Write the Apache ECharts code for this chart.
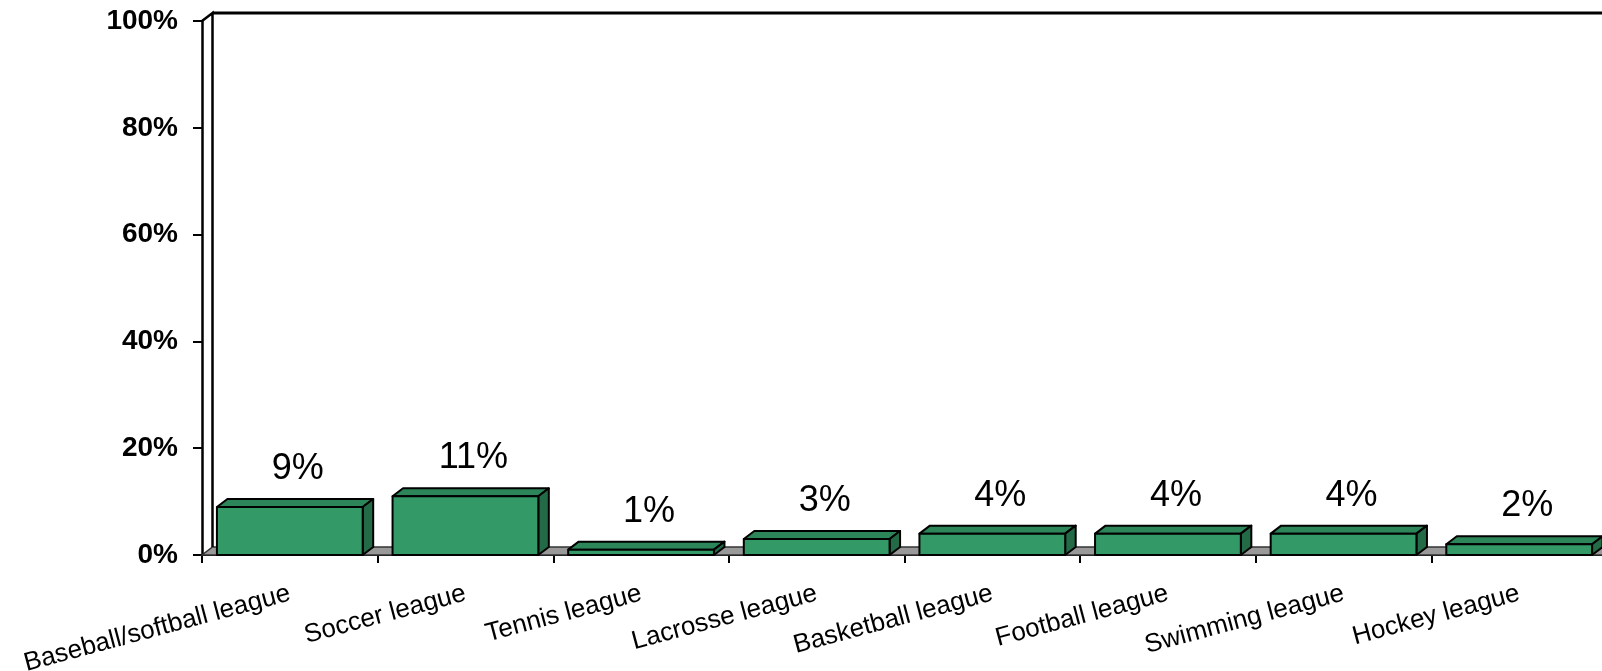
<!DOCTYPE html>
<html>
<head>
<meta charset="utf-8">
<script src="https://cdn.jsdelivr.net/npm/echarts@6/dist/echarts.min.js"></script>
<style>
  html, body { margin: 0; padding: 0; background: #fff; }
  #chart { width: 1602px; height: 671px; }
</style>
</head>
<body>
<div id="chart"></div>
<script>
const categories = ['Baseball/softball league', 'Soccer league', 'Tennis league', 'Lacrosse league',
  'Basketball league', 'Football league', 'Swimming league', 'Hockey league'];
const values = [9, 11, 1, 3, 4, 4, 4, 2];
const yTicks = [0, 20, 40, 60, 80, 100];

const FRONT = '#339966', TOP = '#2d8659', SIDE = '#236b47';
const DX = 10.5, DY = 8;

function renderBar(params, api) {
  const idx = api.value(0), v = api.value(1);
  const base = api.coord([idx, 0]);
  const top = api.coord([idx, v]);
  const catW = api.size([1, 0])[0];
  const x0 = base[0] - catW / 2 + catW * 0.085;
  const w = catW * 0.83;
  const x1 = x0 + w;
  const yb = base[1], yt = top[1];
  const line = { stroke: '#000', lineWidth: 2, lineJoin: 'round' };
  return {
    type: 'group',
    children: [
      { type: 'polygon', shape: { points: [[x0, yt], [x1, yt], [x1 + DX, yt - DY], [x0 + DX, yt - DY]] },
        style: Object.assign({ fill: TOP }, line) },
      { type: 'polygon', shape: { points: [[x1, yt], [x1 + DX, yt - DY], [x1 + DX, yb - DY], [x1, yb]] },
        style: Object.assign({ fill: SIDE }, line) },
      { type: 'rect', shape: { x: x0, y: yt, width: w, height: yb - yt },
        style: Object.assign({ fill: FRONT }, line) },
      { type: 'text', x: (x0 + x1) / 2 + 8, y: yt - 38,
        style: { text: v + '%', fontSize: 36, fontFamily: 'Liberation Sans', fill: '#000',
                 align: 'center', verticalAlign: 'middle' } }
    ]
  };
}

const chart = echarts.init(document.getElementById('chart'), null, { renderer: 'canvas' });
const GL = 202, GT = 21, GW = 1405, GH = 534;

const option = {
  animation: false,
  backgroundColor: '#fff',
  grid: { left: GL, top: GT, width: GW, height: GH, containLabel: false, outerBoundsMode: 'none' },
  xAxis: {
    type: 'category',
    data: categories,
    axisLine: { show: true, lineStyle: { color: '#000', width: 2 } },
    axisTick: { show: true, length: 8, lineStyle: { color: '#000', width: 2 } },
    axisLabel: { rotate: 15, margin: 38, fontSize: 26, fontFamily: 'Liberation Sans', color: '#000', interval: 0 },
    splitLine: { show: false }
  },
  yAxis: {
    type: 'value',
    min: yTicks[0], max: yTicks[yTicks.length - 1], interval: yTicks[1] - yTicks[0],
    axisLine: { show: true, lineStyle: { color: '#000', width: 2.5 } },
    axisTick: { show: true, length: 9, lineStyle: { color: '#000', width: 2 } },
    axisLabel: { formatter: '{value}%', margin: 24, fontSize: 28, fontWeight: 'bold', fontFamily: 'Liberation Sans', color: '#000' },
    splitLine: { show: false }
  },
  series: [{
    type: 'custom',
    renderItem: renderBar,
    data: values.map((v, i) => [i, v]),
    encode: { x: 0, y: 1 },
    z: 5,
    clip: false
  }]
};
chart.setOption(option);

// 3D frame: back wall and floor derived from the axes
const y0 = chart.convertToPixel({ yAxisIndex: 0 }, yTicks[0]);
const y100 = chart.convertToPixel({ yAxisIndex: 0 }, yTicks[yTicks.length - 1]);
const xL = GL, xR = GL + GW;
chart.setOption({
  graphic: [
    { type: 'polygon', z: 1, shape: { points: [[xL, y0], [xR, y0], [xR + DX, y0 - DY], [xL + DX, y0 - DY]] },
      style: { fill: '#999999', stroke: '#333', lineWidth: 1.5 } },
    { type: 'polyline', z: 1, shape: { points: [[xL, y100], [xL + DX, y100 - DY], [xL + DX, y0 - DY]] },
      style: { stroke: '#000', lineWidth: 2.5, fill: null } },
    { type: 'line', z: 1, shape: { x1: xL + DX, y1: y100 - DY, x2: xR + DX + 20, y2: y100 - DY },
      style: { stroke: '#000', lineWidth: 3 } }
  ]
});
</script>
</body>
</html>
